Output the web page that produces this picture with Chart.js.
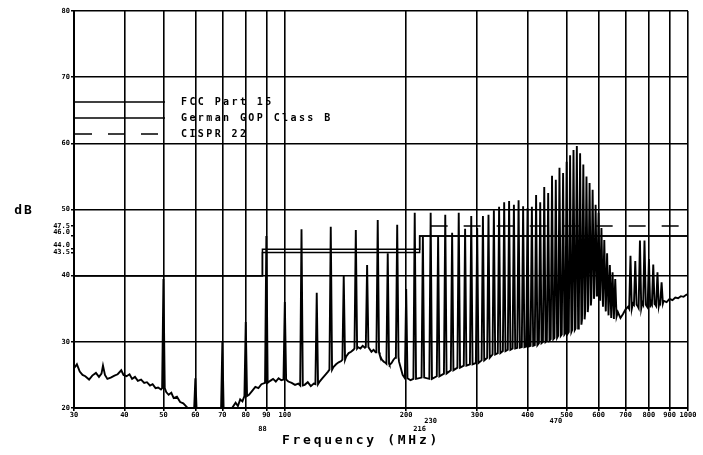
<!DOCTYPE html>
<html><head><meta charset="utf-8">
<script src="https://cdn.jsdelivr.net/npm/chart.js@4/dist/chart.umd.min.js"></script>
<style>html,body{margin:0;padding:0;background:#fff}#wrap{width:703px;height:455px;position:relative}</style>
</head><body><div id="wrap"><canvas id="c" width="703" height="455"></canvas></div>
<script>
// ---- tick labels ----
const xTicks = [30,40,50,60,70,80,90,100,200,300,400,500,600,700,800,900,1000];
const xExtraTicks = [88,216,230,470];
const yTicks = [20,30,40,50,60,70,80];
const yExtraTicks = [43.5,44.0,46.0,47.5];

// ---- measured trace: noise floor (MHz, dB) ----
const floorFreq = [30,30.5,31,31.5,32,32.7,33.3,34,34.6,35.1,35.4,35.8,36.3,37,37.8,38.5,39.3,39.8,40.5,41.2,41.8,42.5,43.2,44,44.8,45.5,46.3,47,47.8,48.5,49.3,
  50.8,51.5,52.3,53,54,55,56,57,58,65,74,75.5,76.5,77.5,78.5,
  81.5,83,84.5,86,87.5,92,93.5,95,96.5,98,102,104,106,108,112,114,116,118,
  122,124,126,128,132,134,136,138,142,144,146,148,152,154,156,158,
  162,164,166,168,172,174,176,178,182,184,186,188,192,194,196,205,
  670,680,690,700,710,730,750,770,790,810,830,850,870,885,900,915,930,945,960,975,990,1000];
const floorLevel = [26.0,26.6,25.5,25.0,24.8,24.3,24.9,25.3,24.7,25.2,26.4,25.0,24.4,24.6,24.9,25.1,25.7,25.0,24.8,25.1,24.4,24.7,24.1,24.3,23.8,23.9,23.4,23.6,23.0,23.1,22.8,
  22.4,22.0,22.3,21.5,21.7,20.9,20.7,20.2,19.8,19.5,20.0,20.8,20.3,21.3,21.0,
  22.0,22.6,23.2,23.0,23.6,24.1,24.4,24.0,24.5,24.2,24.0,23.8,23.5,23.7,23.5,23.9,23.3,23.7,
  24.0,24.5,25.0,25.5,26.2,26.6,26.9,27.1,27.8,28.3,28.5,28.8,29.2,29.0,29.4,29.1,
  29.0,28.5,28.8,28.4,28.0,27.3,27.0,26.8,26.5,26.8,27.3,27.6,27.0,26.0,25.0,24.2,
  34.5,33.6,34.2,34.9,35.3,35.8,35.4,35.9,35.4,36.0,35.6,36.0,36.2,36.0,36.5,36.3,36.7,36.6,36.9,36.8,37.1,37.2];

// ---- measured trace: harmonic spikes ----
const spikeFreq = [50,60,70,80,90,100,110,120,130,140,150,160,170,180,190,200,
  210,220,230,240,250,260,270,280,290,300,310,320,330,340,350,360,370,380,390,400,
  410,420,430,440,450,460,470,480,490,500,510,520,530,540,550,560,570,580,590,600,
  610,620,630,640,650,660,720,740,760,780,800,820,840,860];
const spikePeak = [39.5,24.5,30.0,33.0,46.0,36.0,47.0,37.4,47.4,40.0,46.9,41.6,48.4,43.4,47.7,38.0,
  49.5,45.9,49.5,45.9,49.2,46.5,49.5,47.1,49.0,47.2,49.0,49.2,49.9,50.4,51.1,51.3,50.7,51.4,50.5,50.2,
  50.4,52.2,51.1,53.4,52.5,55.1,54.5,56.3,55.5,57.2,58.2,59.0,59.6,58.5,56.8,55.0,54.0,53.0,50.7,49.5,
  47.2,45.4,43.4,41.6,40.5,39.5,43.0,42.2,45.3,45.3,42.5,41.7,40.5,39.0];
const spikeBase = [23.0,19.5,19.5,21.8,23.8,24.3,23.4,23.6,25.8,27.3,29.0,29.2,28.4,26.7,27.7,24.5,
  24.4,24.6,24.4,24.8,25.2,25.7,26.1,26.4,26.6,26.8,27.2,27.6,28.1,28.3,28.6,28.8,29.0,29.1,29.2,29.3,
  29.4,29.5,29.8,30.0,30.2,30.4,30.6,30.9,31.1,31.3,31.5,31.8,32.0,32.6,33.4,34.5,35.5,36.5,37.0,37.0,
  36.2,35.3,34.6,34.0,33.6,33.8,35.0,35.6,35.1,35.6,35.2,35.7,35.4,35.8];

// ---- limit lines ----
const fccFreq = [30,88,88,216,216,1000];
const fccLevel = [40,40,43.5,43.5,46,46];
const gopFreq = [30,88,88,216,216,1000];
const gopLevel = [40,40,44,44,46,46];
const cisprFreq = [230,1000];
const cisprLevel = [47.5,47.5];

const legendNames = ['FCC Part 15','German GOP Class B','CISPR 22'];

// build trace
const SPIKE_HALF = 0.0075;
let pts = floorFreq.map((f,i)=>({x:f,y:floorLevel[i]}));
spikeFreq.forEach((f,i)=>{
  pts.push({x:f*(1-SPIKE_HALF),y:spikeBase[i]});
  pts.push({x:f,y:spikePeak[i]});
  pts.push({x:f*(1+SPIKE_HALF),y:spikeBase[i]});
});
pts.sort((a,b)=>a.x-b.x);
const toPts=(fs,ls)=>fs.map((f,i)=>({x:f,y:ls[i]}));

const MONO = '"DejaVu Sans Mono", monospace';
const tickFont = {family:MONO, size:7, weight:'bold', lineHeight:1.2};

const annot = {
  id:'annot',
  afterDraw(chart){
    const ctx = chart.ctx, ca = chart.chartArea;
    ctx.save();
    ctx.strokeStyle='#000'; ctx.fillStyle='#000'; ctx.lineWidth=1.5;
    const ys=[ca.top+91, ca.top+107, ca.top+123];
    ys.forEach((y,i)=>{
      ctx.setLineDash(i===2?[17,16]:[]);
      ctx.beginPath(); ctx.moveTo(ca.left+1,y); ctx.lineTo(165,y); ctx.stroke();
    });
    ctx.setLineDash([]);
    ctx.font = 'bold 10px '+MONO;
    ctx.letterSpacing = '2.4px';
    ctx.textBaseline='middle'; ctx.textAlign='left';
    legendNames.forEach((t,i)=>ctx.fillText(t,181,ys[i]));
    ctx.font = 'bold 13px '+MONO;
    ctx.letterSpacing = '2.7px';
    ctx.textAlign='center';
    ctx.fillText('Frequency (MHz)', 361, 441);
    ctx.letterSpacing = '2px';
    ctx.fillText('dB', 24, 211);
    ctx.restore();
  }
};

new Chart(document.getElementById('c'),{
  type:'line',
  data:{datasets:[
    {label:'Measured', data:pts, borderColor:'#000', borderWidth:1.9, pointRadius:0, tension:0, fill:false},
    {label:legendNames[0], data:toPts(fccFreq,fccLevel), borderColor:'#000', borderWidth:1.5, pointRadius:0, fill:false},
    {label:legendNames[1], data:toPts(gopFreq,gopLevel), borderColor:'#000', borderWidth:1.5, pointRadius:0, fill:false},
    {label:legendNames[2], data:toPts(cisprFreq,cisprLevel), borderColor:'#000', borderWidth:1.5, borderDash:[17,16], pointRadius:0, fill:false}
  ]},
  options:{
    responsive:false, animation:false, devicePixelRatio:1,
    layout:{padding:{left:0,top:11,right:15,bottom:0}},
    plugins:{legend:{display:false}, tooltip:{enabled:false}},
    scales:{
      x:{type:'logarithmic', min:30, max:1000,
        afterBuildTicks(s){ s.ticks=[...xTicks,...xExtraTicks].sort((a,b)=>a-b).map(v=>({value:v})); },
        afterFit(s){ s.height=47; },
        border:{display:true,color:'#000',width:2},
        grid:{
          color:c=>(c.tick && xTicks.includes(c.tick.value))?'#000':'rgba(0,0,0,0)',
          lineWidth:1.6, tickLength:3
        },
        ticks:{autoSkip:false, maxRotation:0, minRotation:0, padding:0, color:'#000',
          font:c=>{
            const v=c.tick?c.tick.value:0;
            if(v===230||v===470) return {...tickFont, lineHeight:'6.5px'};
            if(v===88||v===216) return {...tickFont, lineHeight:'12px'};
            return tickFont;
          },
          callback:(v)=> xExtraTicks.includes(v)?['',String(v)]:String(v)
        }
      },
      y:{type:'linear', min:20, max:80,
        afterBuildTicks(s){ s.ticks=[...yTicks,...yExtraTicks].sort((a,b)=>a-b).map(v=>({value:v})); },
        afterFit(s){ s.width=74; },
        border:{display:true,color:'#000',width:2},
        grid:{
          color:c=>(c.tick && yTicks.includes(c.tick.value))?'#000':'rgba(0,0,0,0)',
          tickColor:'#000', lineWidth:1.6, tickLength:3
        },
        ticks:{autoSkip:false, padding:1, color:'#000',
          font:c=>{
            const v=c.tick?c.tick.value:0;
            if(v===46||v===44) return {...tickFont, lineHeight:'8px'};
            return tickFont;
          },
          callback:(v)=>{
            if(v===46||v===44) return [v.toFixed(1),''];
            if(yExtraTicks.includes(v)) return v.toFixed(1);
            return String(v);
          }
        }
      }
    }
  },
  plugins:[annot]
});
</script>
</body></html>
